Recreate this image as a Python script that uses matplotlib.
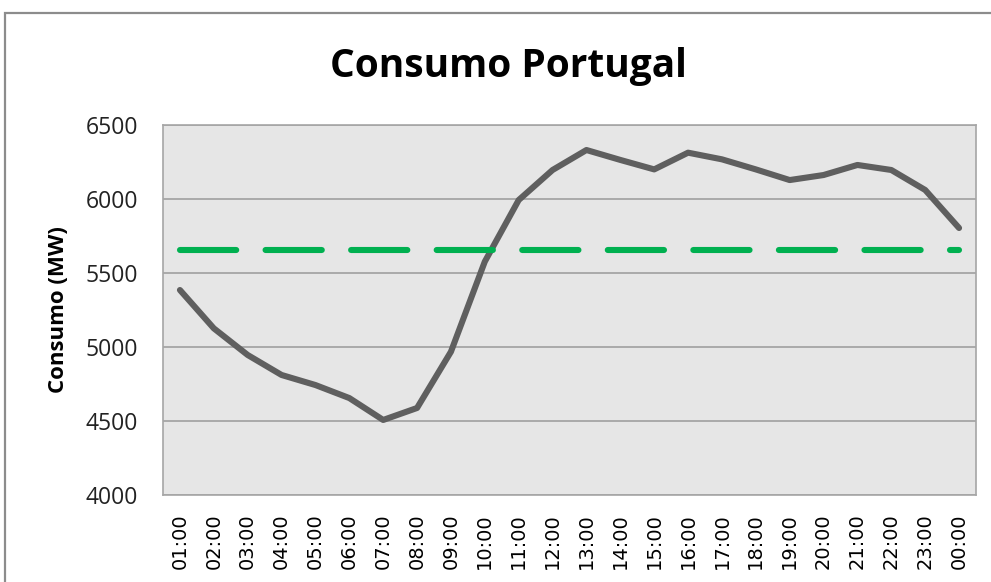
import numpy as np
import matplotlib.pyplot as plt
from matplotlib.patches import Rectangle

# dados horarios de consumo (MW)
horas = ['01:00', '02:00', '03:00', '04:00', '05:00', '06:00', '07:00', '08:00',
         '09:00', '10:00', '11:00', '12:00', '13:00', '14:00', '15:00', '16:00',
         '17:00', '18:00', '19:00', '20:00', '21:00', '22:00', '23:00', '00:00']
consumo = [5385, 5126, 4946, 4811, 4743, 4655, 4507, 4588,
           4968, 5577, 5993, 6196, 6331, 6264, 6200, 6313,
           6268, 6200, 6128, 6162, 6230, 6196, 6061, 5804]
media = np.mean(consumo)

fig = plt.figure(figsize=(9.91, 5.82), dpi=100)
fig.set_facecolor('w')
ax = fig.add_axes([163/991, 1 - 495/582, (976-163)/991, (495-125)/582])
ax.set_facecolor('#E6E6E6')

# moldura do grafico
fig.patches.append(Rectangle((5/991, -0.1), 1.2, 1 - 13/582 + 0.1, transform=fig.transFigure,
                             fill=False, edgecolor='#8C8C8C', linewidth=1.6, zorder=0))

x = np.arange(len(horas))
ax.plot(x, consumo, color='#5F5F5F', linewidth=4.4, solid_capstyle='round',
        solid_joinstyle='round', zorder=3)
ax.plot(x, [media]*len(x), color='#00B050', linewidth=4.4, dash_capstyle='round',
        dashes=(9.2, 4.8), zorder=3)

ax.set_xlim(-0.5, len(horas) - 0.5)
ax.set_ylim(4000, 6500)
ax.set_yticks([4000, 4500, 5000, 5500, 6000, 6500])
ax.set_xticks(x)
ax.set_xticklabels(horas, rotation=90, fontsize=14, family='DejaVu Sans')
for t in ax.get_yticklabels():
    t.set_fontsize(16.5)
    t.set_family('Open Sans')
    t.set_color('#222222')
ax.tick_params(axis='both', length=0)
ax.tick_params(axis='y', pad=18)
ax.tick_params(axis='x', pad=13)

ax.yaxis.grid(True, color='#A0A0A0', linewidth=1.2)
ax.set_axisbelow(True)
for s in ax.spines.values():
    s.set_color('#A6A6A6')
    s.set_linewidth(1.2)

ax.set_ylabel('Consumo (MW)', fontsize=16, fontweight='bold', family='Open Sans', labelpad=12)
fig.text(508/991, 1 - 67/582, 'Consumo Portugal', ha='center', va='center',
         fontsize=28, fontweight='bold', family='Open Sans')

fig.savefig('out.png', dpi=100)
